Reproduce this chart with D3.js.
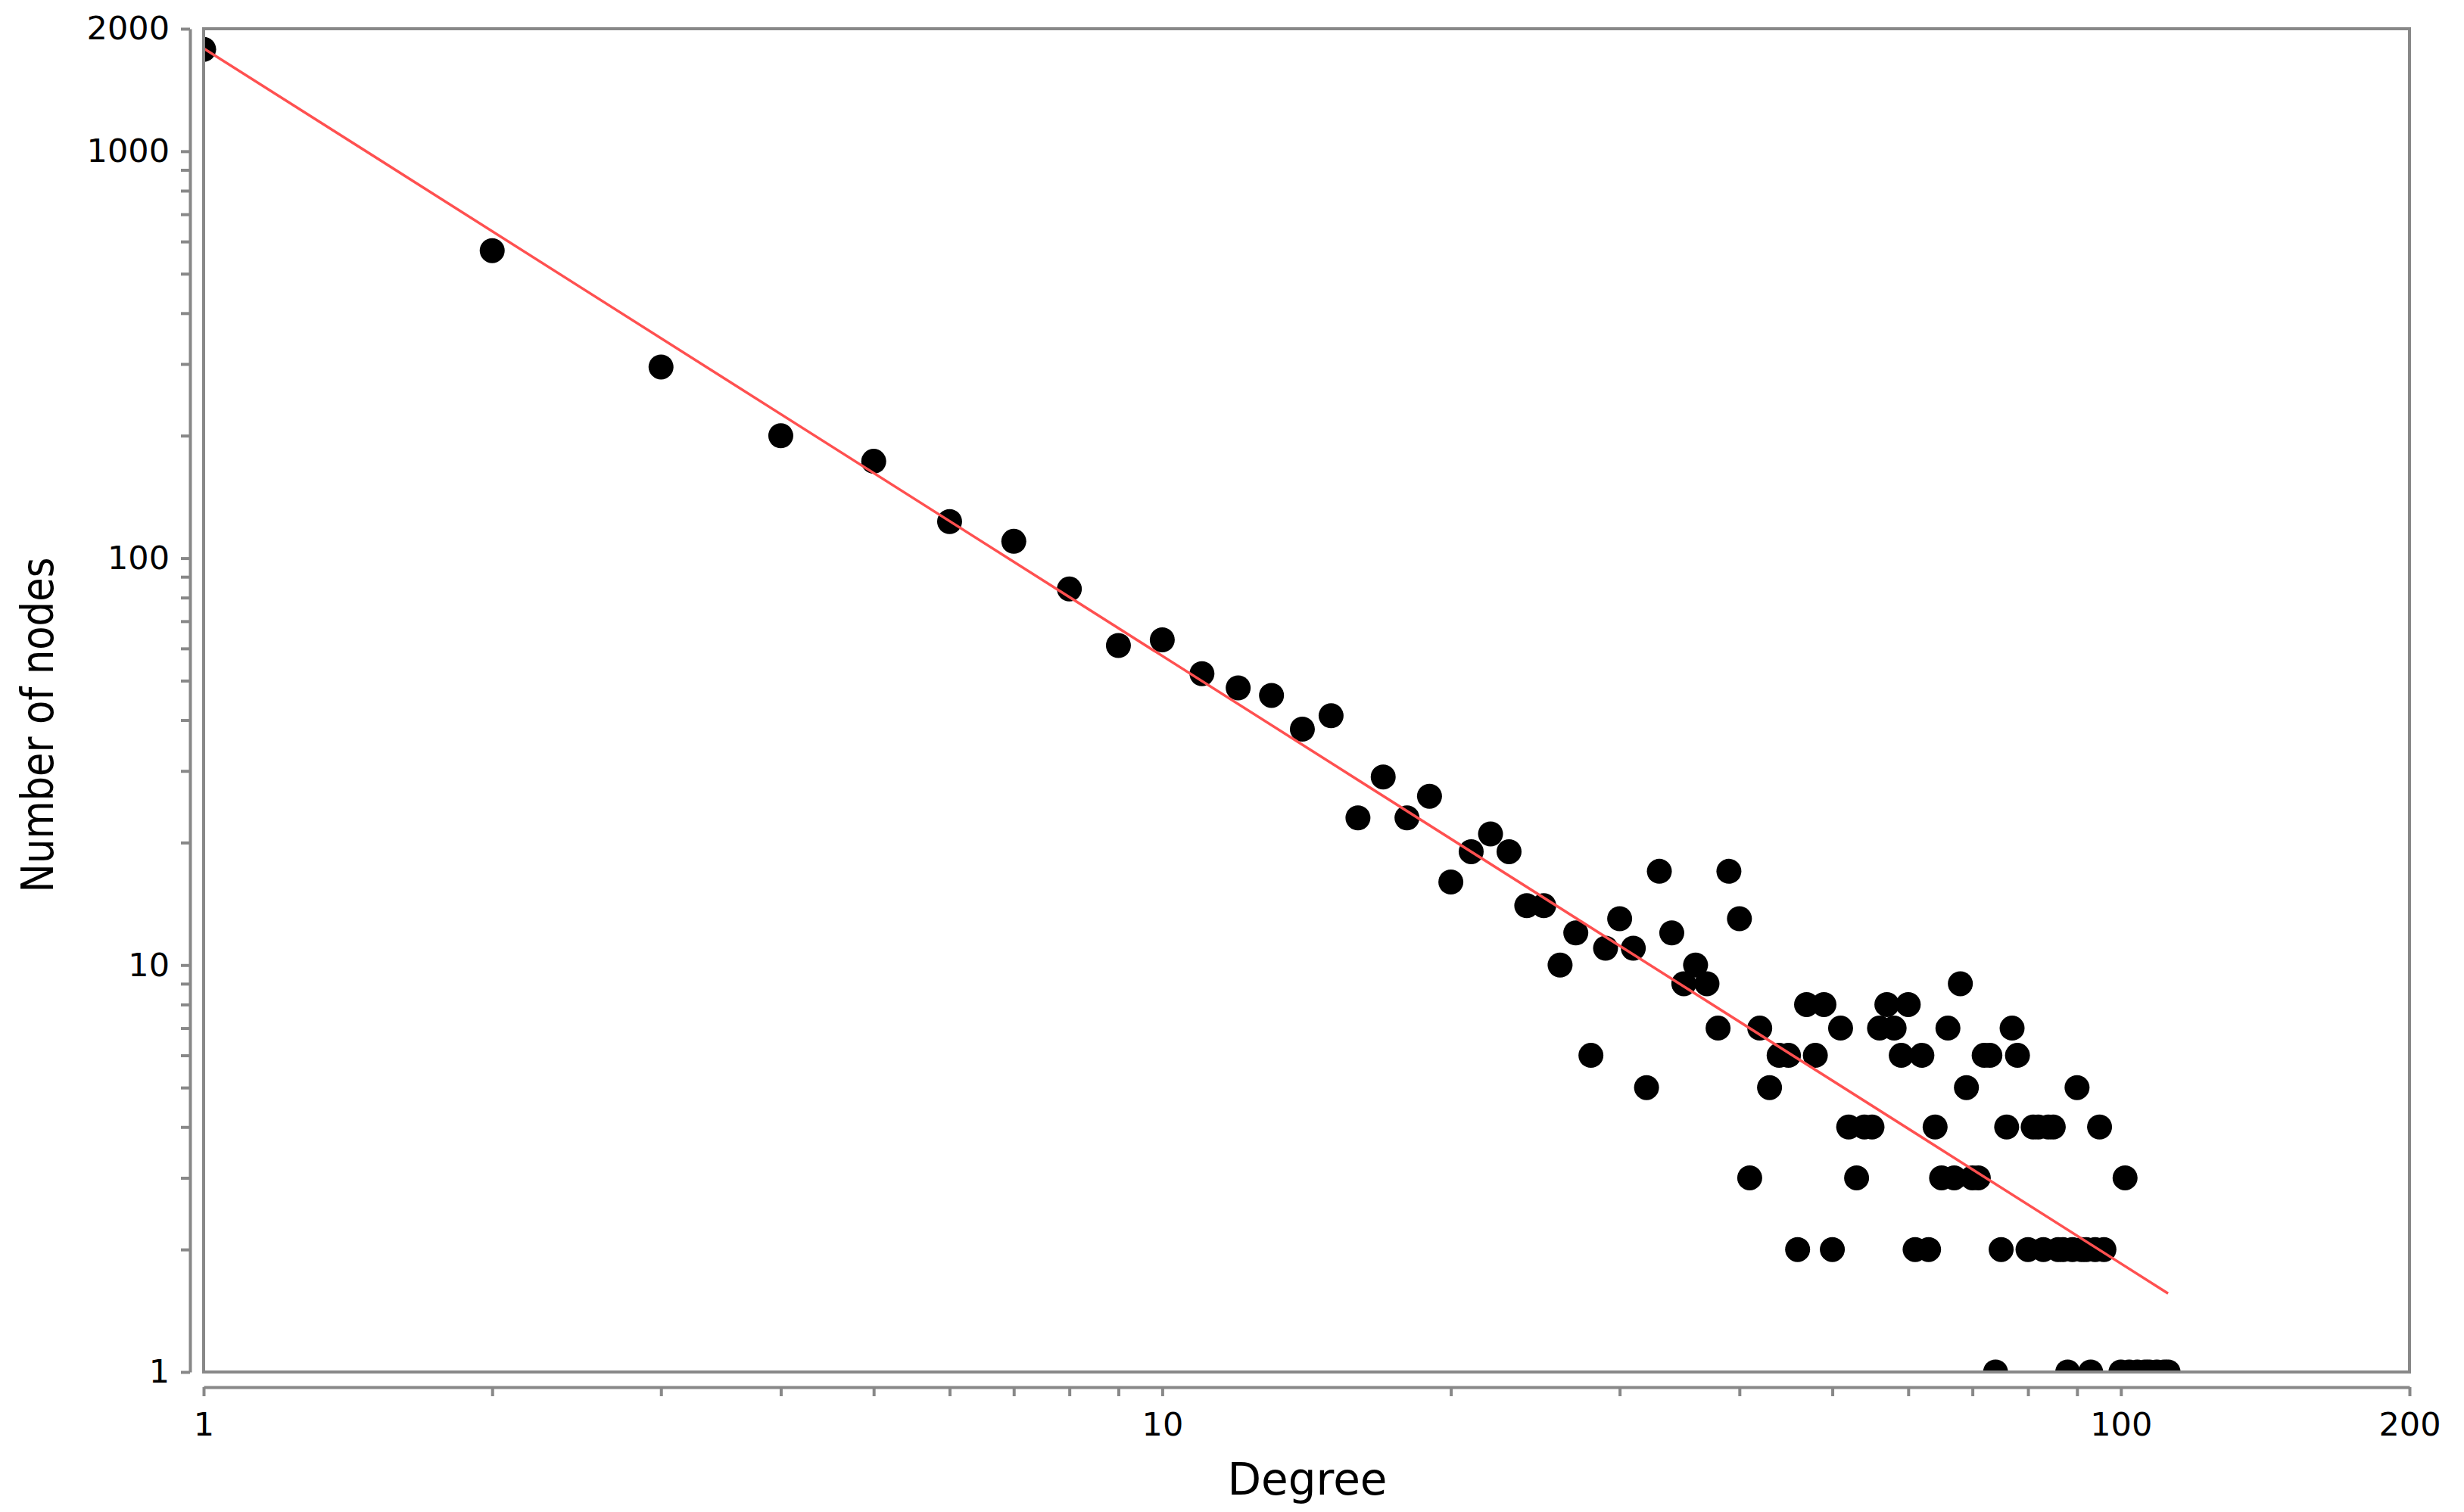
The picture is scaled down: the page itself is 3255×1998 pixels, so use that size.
<!DOCTYPE html>
<html>
<head>
<meta charset="utf-8">
<script src="https://cdn.jsdelivr.net/npm/d3@7"></script>
<style>
  body { margin: 0; background: #fff; }
  text { font-family: "DejaVu Sans", sans-serif; fill: #000; }
</style>
</head>
<body>
<script>
// degree distribution
const degrees = [1, 2, 3, 4, 5, 6, 7, 8, 9, 10,
  11, 12, 13, 14, 15, 16, 17, 18, 19, 20,
  21, 22, 23, 24, 25, 26, 27, 28, 29, 30,
  31, 32, 33, 34, 35, 36, 37, 38, 39, 40,
  41, 42, 43, 44, 45, 46, 47, 48, 49, 50,
  51, 52, 53, 54, 55, 56, 57, 58, 59, 60,
  61, 62, 63, 64, 65, 66, 67, 68, 69, 70,
  71, 72, 73, 74, 75, 76, 77, 78, 80, 81,
  82, 83, 84, 85, 86, 87, 88, 89, 90, 91,
  92, 93, 94, 95, 96, 100, 101, 102, 104, 106,
  107, 109, 111, 112]
const nodeCounts = [1780, 570, 295, 200, 173, 123, 110, 84, 61, 63,
  52, 48, 46, 38, 41, 23, 29, 23, 26, 16,
  19, 21, 19, 14, 14, 10, 12, 6, 11, 13,
  11, 5, 17, 12, 9, 10, 9, 7, 17, 13,
  3, 7, 5, 6, 6, 2, 8, 6, 8, 2,
  7, 4, 3, 4, 4, 7, 8, 7, 6, 8,
  2, 6, 2, 4, 3, 7, 3, 9, 5, 3,
  3, 6, 6, 1, 2, 4, 7, 6, 2, 4,
  4, 2, 4, 4, 2, 2, 1, 2, 5, 2,
  2, 1, 2, 4, 2, 1, 3, 1, 1, 1,
  1, 1, 1, 1]

// power law fit drawn as a straight line (end points)
const fitDegrees = [1, 112]
const fitCounts = [1790, 1.56]

const xTicks = [1, 2, 3, 4, 5, 6, 7, 8, 9, 10, 20, 30, 40, 50, 60, 70, 80, 90, 100, 200]
const xLabels = [1, 10, 100, 200]
const yTicks = [1, 2, 3, 4, 5, 6, 7, 8, 9, 10, 20, 30, 40, 50, 60, 70, 80, 90,
  100, 200, 300, 400, 500, 600, 700, 800, 900, 1000, 2000]
const yLabels = [1, 10, 100, 1000, 2000]

const W = 3255, H = 1998
const plotLeft = 269, plotRight = 3183, plotTop = 38, plotBottom = 1813
const axisGrey = '#888'

const points = degrees.map((d, i) => ({ degree: d, count: nodeCounts[i] }))
const fit = fitDegrees.map((d, i) => ({ degree: d, count: fitCounts[i] }))

const x = d3.scaleLog().domain([1, 200]).range([plotLeft, plotRight])
const y = d3.scaleLog().domain([1, 2000]).range([plotBottom, plotTop])

const svg = d3.select('body')
  .append('svg')
  .attr('width', W)
  .attr('height', H)

svg.append('rect')
  .attr('width', W)
  .attr('height', H)
  .attr('fill', '#fff')

svg.append('clipPath')
  .attr('id', 'plot-clip')
  .append('rect')
  .attr('x', plotLeft)
  .attr('y', plotTop)
  .attr('width', plotRight - plotLeft)
  .attr('height', plotBottom - plotTop)

const plot = svg.append('g')
  .attr('clip-path', 'url(#plot-clip)')

// dots
plot.selectAll('circle')
  .data(points)
  .enter()
  .append('circle')
  .attr('cx', d => x(d.degree))
  .attr('cy', d => y(d.count))
  .attr('r', 16.5)
  .attr('fill', '#000')

// fitted line
plot.append('path')
  .datum(fit)
  .attr('fill', 'none')
  .attr('stroke', '#ff5050')
  .attr('stroke-width', 3.5)
  .attr('d', d3.line()
    .x(d => x(d.degree))
    .y(d => y(d.count))
  )

// plot frame
svg.append('rect')
  .attr('x', plotLeft)
  .attr('y', plotTop)
  .attr('width', plotRight - plotLeft)
  .attr('height', plotBottom - plotTop)
  .attr('fill', 'none')
  .attr('stroke', axisGrey)
  .attr('stroke-width', 4)

// x axis, sitting a bit below the frame
const xAxis = svg.append('g')
  .attr('transform', `translate(0, ${plotBottom + 20})`)
  .call(d3.axisBottom(x)
    .tickValues(xTicks)
    .tickFormat(d => xLabels.includes(d) ? d : '')
    .tickSize(12)
    .tickSizeOuter(0)
    .tickPadding(21))

// y axis, a bit left of the frame
const yAxis = svg.append('g')
  .attr('transform', `translate(${plotLeft - 18}, 0)`)
  .call(d3.axisLeft(y)
    .tickValues(yTicks)
    .tickFormat(d => yLabels.includes(d) ? d : '')
    .tickSize(12)
    .tickSizeOuter(0)
    .tickPadding(15))

for (const ax of [xAxis, yAxis]) {
  ax.select('.domain')
    .attr('stroke', axisGrey)
    .attr('stroke-width', 4)
  ax.selectAll('.tick line')
    .attr('stroke', axisGrey)
    .attr('stroke-width', 4)
  ax.selectAll('.tick text')
    .attr('fill', '#000')
    .attr('font-family', 'DejaVu Sans')
    .attr('font-size', 43)
}

// axis titles
svg.append('text')
  .attr('x', 1727)
  .attr('y', 1975)
  .attr('text-anchor', 'middle')
  .attr('font-size', 58)
  .text('Degree')

svg.append('text')
  .attr('transform', 'translate(70, 958) rotate(-90)')
  .attr('text-anchor', 'middle')
  .attr('font-size', 58)
  .attr('textLength', 443)
  .attr('lengthAdjust', 'spacingAndGlyphs')
  .text('Number of nodes')
</script>
</body>
</html>
